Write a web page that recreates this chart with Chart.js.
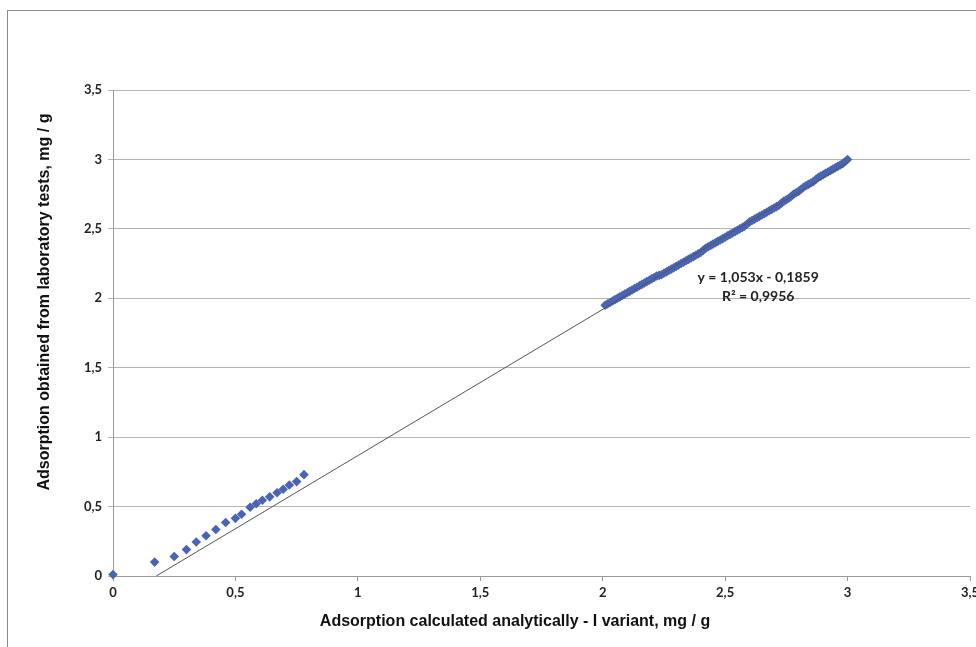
<!DOCTYPE html>
<html>
<head>
<meta charset="utf-8">
<script src="https://cdn.jsdelivr.net/npm/chart.js@4/dist/chart.umd.min.js"></script>
<style>
  body { margin: 0; overflow: hidden; background: #fff; }
  #wrap { position: relative; width: 985px; height: 647px; }
  #frame { position: absolute; left: 7px; top: 10px; width: 990px; height: 660px;
           border-left: 1px solid #8a8a8a; border-top: 1px solid #8a8a8a; }
  canvas { position: absolute; left: 0; top: 0; }
</style>
</head>
<body>
<div id="wrap">
  <div id="frame"></div>
  <canvas id="myChart" width="985" height="647"></canvas>
</div>
<script>
  // measured points, lower group
  const lowX = [0, 0.17, 0.25, 0.30, 0.34, 0.38, 0.42, 0.46, 0.50, 0.525, 0.56, 0.585, 0.61, 0.64, 0.67, 0.695, 0.72, 0.75, 0.78];
  const lowY = [0.01, 0.10, 0.14, 0.19, 0.245, 0.29, 0.335, 0.385, 0.415, 0.445, 0.495, 0.52, 0.545, 0.57, 0.60, 0.625, 0.655, 0.68, 0.73];

  // measured points, upper group (dense band)
  const highX = [2.01, 2.02, 2.03, 2.04, 2.05, 2.06, 2.07, 2.08, 2.09, 2.10,
                 2.11, 2.12, 2.13, 2.14, 2.15, 2.16, 2.17, 2.18, 2.19, 2.20,
                 2.21, 2.22, 2.23, 2.24, 2.25, 2.26, 2.27, 2.28, 2.29, 2.30,
                 2.31, 2.32, 2.33, 2.34, 2.35, 2.36, 2.37, 2.38, 2.39, 2.40,
                 2.41, 2.42, 2.43, 2.44, 2.45, 2.46, 2.47, 2.48, 2.49, 2.50,
                 2.51, 2.52, 2.53, 2.54, 2.55, 2.56, 2.57, 2.58, 2.59, 2.60,
                 2.61, 2.62, 2.63, 2.64, 2.65, 2.66, 2.67, 2.68, 2.69, 2.70,
                 2.71, 2.72, 2.73, 2.74, 2.75, 2.76, 2.77, 2.78, 2.79, 2.80,
                 2.81, 2.82, 2.83, 2.84, 2.85, 2.86, 2.87, 2.88, 2.89, 2.90,
                 2.91, 2.92, 2.93, 2.94, 2.95, 2.96, 2.97, 2.98, 2.99, 3.00];
  const highY = [1.95, 1.96, 1.97, 1.98, 1.99, 2.00, 2.01, 2.02, 2.03, 2.04,
                 2.05, 2.06, 2.07, 2.08, 2.09, 2.10, 2.11, 2.12, 2.13, 2.14,
                 2.15, 2.16, 2.165, 2.17, 2.18, 2.19, 2.20, 2.21, 2.22, 2.23,
                 2.24, 2.25, 2.26, 2.27, 2.28, 2.29, 2.30, 2.31, 2.32, 2.33,
                 2.345, 2.36, 2.37, 2.38, 2.39, 2.40, 2.41, 2.42, 2.43, 2.44,
                 2.45, 2.46, 2.47, 2.48, 2.49, 2.50, 2.51, 2.52, 2.535, 2.55,
                 2.56, 2.57, 2.58, 2.59, 2.60, 2.61, 2.62, 2.63, 2.64, 2.65,
                 2.66, 2.67, 2.685, 2.70, 2.71, 2.72, 2.735, 2.75, 2.76, 2.77,
                 2.785, 2.80, 2.81, 2.82, 2.83, 2.84, 2.855, 2.87, 2.88, 2.89,
                 2.90, 2.91, 2.92, 2.93, 2.94, 2.95, 2.96, 2.97, 2.985, 3.00];

  // linear trendline
  const slope = 1.053;
  const intercept = -0.1859;
  const r2 = 0.9956;
  const trendFrom = -intercept / slope;
  const trendTo = 3;

  const xTitle = 'Adsorption calculated analytically - I variant, mg / g';
  const yTitle = 'Adsorption obtained from laboratory tests, mg / g';

  const fmt = v => String(v).replace('.', ',');
  const blue = '#4a64b5';

  const points = lowX.map((x, i) => ({ x: x, y: lowY[i] }))
    .concat(highX.map((x, i) => ({ x: x, y: highY[i] })));
  const trend = [trendFrom, trendTo].map(x => ({ x: x, y: slope * x + intercept }));

  // trendline equation + axis titles (placed off-centre like the original)
  const labels = {
    id: 'labels',
    afterDraw(chart) {
      const ctx = chart.ctx;
      const xs = chart.scales.x, ys = chart.scales.y;
      const cx = xs.getPixelForValue(2.635);
      const cy = ys.getPixelForValue(2.0);
      ctx.save();
      ctx.fillStyle = '#222';
      ctx.font = 'bold 14px Lato';
      ctx.textAlign = 'center';
      ctx.textBaseline = 'middle';
      const sign = intercept < 0 ? ' - ' : ' + ';
      ctx.fillText('y = ' + fmt(slope) + 'x' + sign + fmt(Math.abs(intercept)), cx, cy - 21);
      ctx.fillText('R² = ' + fmt(r2), cx, cy - 2);

      ctx.fillStyle = '#111';
      ctx.font = 'bold 16px "Liberation Sans"';
      ctx.fillText(xTitle, 515, 622);
      ctx.translate(45, 302);
      ctx.rotate(-Math.PI / 2);
      ctx.fillText(yTitle, 0, 0);
      ctx.restore();
    }
  };

  const config = {
    type: 'scatter',
    data: {
      datasets: [{
        label: 'trend',
        type: 'line',
        data: trend,
        borderColor: '#555',
        borderWidth: 1,
        pointRadius: 0,
        fill: false
      }, {
        label: 'data',
        data: points,
        backgroundColor: blue,
        borderColor: blue,
        pointStyle: 'rectRot',
        pointRadius: 4.8,
        borderWidth: 0,
        clip: false
      }]
    },
    options: {
      responsive: false,
      animation: false,
      layout: { padding: { left: 33, right: 15, top: 90, bottom: 16 } },
      plugins: {
        legend: { display: false },
        tooltip: { enabled: false }
      },
      scales: {
        x: {
          type: 'linear',
          min: 0, max: 3.5,
          afterFit: s => { s.height = 55; },
          ticks: {
            stepSize: 0.5,
            color: '#222',
            font: { family: 'Lato', size: 13, weight: 'bold' },
            padding: 4,
            maxRotation: 0,
            callback: v => fmt(v)
          },
          grid: { drawOnChartArea: false, tickLength: 5, color: '#9a9a9a' },
          border: { color: '#9a9a9a' }
        },
        y: {
          type: 'linear',
          min: 0, max: 3.5,
          afterFit: s => { s.width = 80; },
          ticks: {
            stepSize: 0.5,
            color: '#222',
            font: { family: 'Lato', size: 13, weight: 'bold' },
            padding: 6,
            callback: v => fmt(v)
          },
          grid: { color: '#b4b4b4', tickLength: 5, lineWidth: 1 },
          border: { color: '#9a9a9a' }
        }
      }
    },
    plugins: [labels]
  };

  const myChart = new Chart(document.getElementById('myChart'), config);
</script>
</body>
</html>
